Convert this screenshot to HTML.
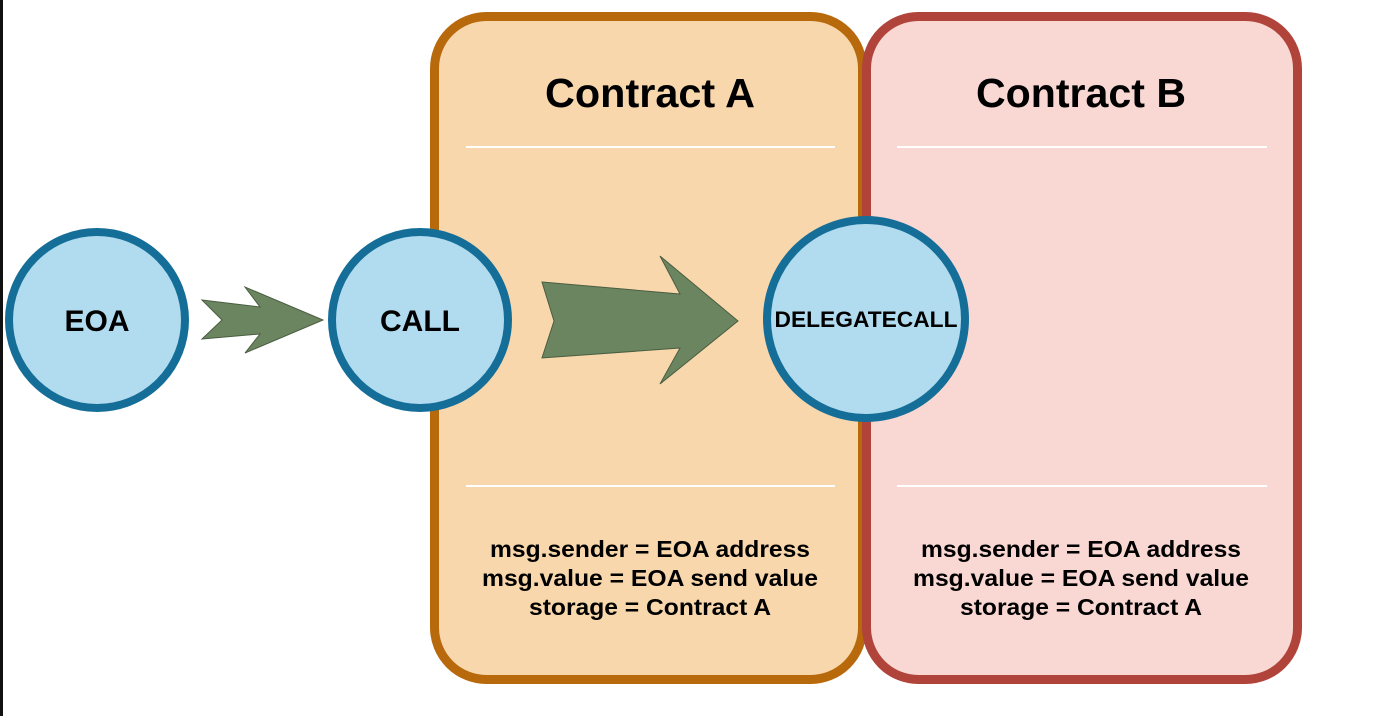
<!DOCTYPE html>
<html><head><style>
html,body{margin:0;padding:0;background:#fff;}
svg{display:block;}
text{font-family:"Liberation Sans",Arial,sans-serif;font-weight:bold;fill:#000;}
</style></head><body>
<svg width="1400" height="716" viewBox="0 0 1400 716" xmlns="http://www.w3.org/2000/svg">
<rect x="0" y="0" width="3" height="716" fill="#111"/>
<rect x="434.5" y="16.5" width="428" height="663" rx="52" fill="#f9d7ac" stroke="#b8690b" stroke-width="9"/>
<rect x="866.5" y="16.5" width="431" height="663" rx="52" fill="#f9d7d3" stroke="#b1443a" stroke-width="9"/>
<line x1="466" y1="147" x2="835" y2="147" stroke="#fff" stroke-width="2"/>
<line x1="466" y1="486" x2="835" y2="486" stroke="#fff" stroke-width="2"/>
<line x1="897" y1="147" x2="1267" y2="147" stroke="#fff" stroke-width="2"/>
<line x1="897" y1="486" x2="1267" y2="486" stroke="#fff" stroke-width="2"/>
<text x="650" y="107" font-size="41" text-anchor="middle" textLength="210" lengthAdjust="spacingAndGlyphs">Contract A</text>
<text x="1081" y="107" font-size="41" text-anchor="middle" textLength="210" lengthAdjust="spacingAndGlyphs">Contract B</text>
<g font-size="23" text-anchor="middle" lengthAdjust="spacingAndGlyphs">
<text x="650" y="557" textLength="320" lengthAdjust="spacingAndGlyphs">msg.sender = EOA address</text>
<text x="650" y="586" textLength="336" lengthAdjust="spacingAndGlyphs">msg.value = EOA send value</text>
<text x="650" y="615" textLength="242" lengthAdjust="spacingAndGlyphs">storage = Contract A</text>
<text x="1081" y="557" textLength="320" lengthAdjust="spacingAndGlyphs">msg.sender = EOA address</text>
<text x="1081" y="586" textLength="336" lengthAdjust="spacingAndGlyphs">msg.value = EOA send value</text>
<text x="1081" y="615" textLength="242" lengthAdjust="spacingAndGlyphs">storage = Contract A</text>
</g>
<polygon points="202,300 260,307 245,287 323,320 245,353 260,334 202,339 222,320" fill="#6b8560" stroke="#4a5e42" stroke-width="1"/>
<polygon points="542,282 680,294 660,256 738,321 660,384 680,348 542,358 554,321" fill="#6b8560" stroke="#4a5e42" stroke-width="1"/>
<circle cx="97" cy="320" r="88" fill="#b1dbef" stroke="#156e98" stroke-width="8"/>
<circle cx="420" cy="320" r="88" fill="#b1dbef" stroke="#156e98" stroke-width="8"/>
<circle cx="866" cy="319" r="99" fill="#b1dbef" stroke="#156e98" stroke-width="8"/>
<text x="97" y="331" font-size="30" text-anchor="middle">EOA</text>
<text x="420" y="331" font-size="30" text-anchor="middle">CALL</text>
<text x="866" y="327" font-size="22" text-anchor="middle" textLength="183" lengthAdjust="spacingAndGlyphs">DELEGATECALL</text>
</svg>
</body></html>
